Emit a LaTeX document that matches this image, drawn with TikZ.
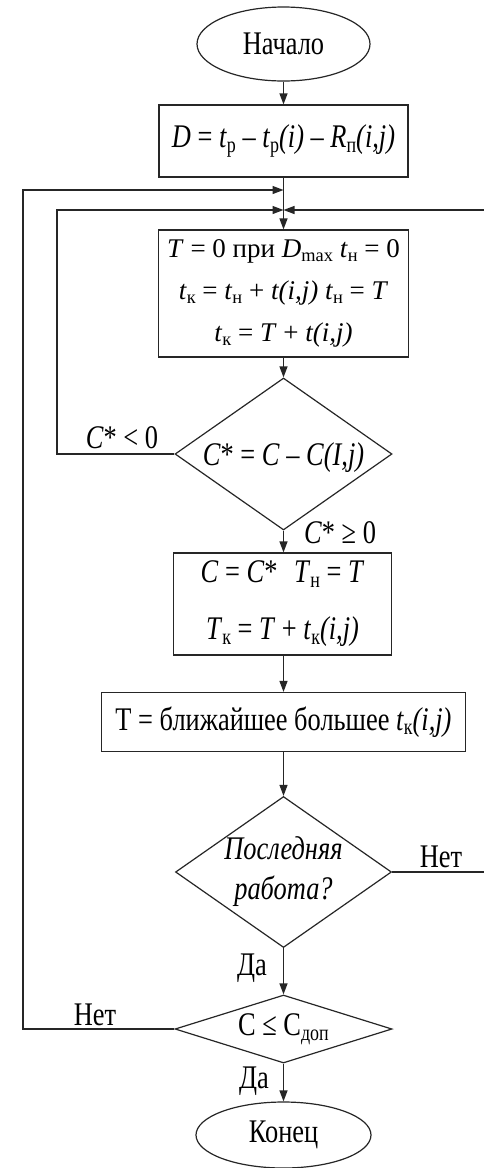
\documentclass[tikz,border=0pt]{standalone}
\usepackage{fontspec}
\setmainfont[FakeStretch=0.8]{Liberation Serif}
\newfontfamily\plainserif{Liberation Serif}
\usetikzlibrary{shapes.geometric,arrows.meta}
\newcommand\lo[1]{\raisebox{-0.3ex}{\scalebox{0.68}{#1}}}
\newcommand\vi[1]{\textit{#1}}
\begin{document}
\begin{tikzpicture}[x=1pt,y=-1pt,
 line/.style={draw=black!85,line width=1.2pt},
 arr/.style={line,-{Triangle[length=11pt,width=8pt]}},
 txt/.style={font=\fontsize{33}{40}\selectfont},
 term/.style={ellipse,line,inner sep=0pt,txt},
 box/.style={rectangle,line,inner sep=0pt,txt,align=center},
 dec/.style={diamond,line,inner sep=0pt},
 lab/.style={txt,anchor=base,inner sep=0pt}]
\fill[white] (0,0) rectangle (483,1168);
\useasboundingbox (0,0) rectangle (483,1168);

\node[term,minimum width=173pt,minimum height=74pt] (start) at (283.5,44) {Начало};
\node[box,minimum width=249pt,minimum height=72pt] (D) at (283.5,141)
 {\vi{D} = \vi{t}\lo{р} – \vi{t}\lo{р}\vi{(i)} – \vi{R}\lo{п}\vi{(i,j)}};
\node[box,minimum width=250pt,minimum height=127pt,font=\plainserif\fontsize{27}{42}\selectfont] (T) at (283.5,293.5)
 {\vi{T} = 0 при \vi{D}\lo{max} \vi{t}\lo{н} = 0\\
  \vi{t}\lo{к} = \vi{t}\lo{н} + \vi{t(i,j)} \vi{t}\lo{н} = \vi{T}\\
  \vi{t}\lo{к} = \vi{T} + \vi{t(i,j)}};
\node[dec,minimum width=217pt,minimum height=152pt,
 label={[txt,yshift=-4pt]center:\vi{C}* = \vi{C} – \vi{C(I,j)}}] (d1) at (283.5,454) {};
\node[box,minimum width=218pt,minimum height=102pt] (C) at (282.5,604)
 {\vi{C} = \vi{C}*\enspace \vi{T}\lo{н} = \vi{T}\\[17pt]
  \vi{T}\lo{к} = \vi{T} + \vi{t}\lo{к}\vi{(i,j)}};
\node[box,minimum width=364pt,minimum height=59pt] (T2) at (283.5,722)
 {T = ближайшее большее \vi{t}\lo{к}\vi{(i,j)}};
\node[dec,minimum width=216pt,minimum height=151pt,
 label={[txt,align=center]center:\vi{Последняя}\\\vi{работа?}}] (d2) at (283.5,872) {};
\node[dec,minimum width=217pt,minimum height=68pt,
 label={[txt]center:C ≤ C\lo{доп}}] (d3) at (283.5,1029) {};
\node[term,minimum width=175pt,minimum height=66pt] (end) at (283.5,1135) {Конец};

\coordinate (m1) at (283.5,190);
\coordinate (m2) at (283.5,210);

\draw[arr] (start) -- (D);
\draw[arr] (D) -- (T);
\draw[arr] (T) -- (d1);
\draw[arr] (d1) -- (C.north -| d1.south);
\draw[arr] (C.south -| T2.north) -- (T2);
\draw[arr] (T2) -- (d2);
\draw[arr] (d2) -- (d3);
\draw[arr] (d3) -- (end);
\draw[arr] (d1.west) -| (57,210) -- (m2);
\draw[arr] (d2.east) -- (490,872) |- (m2);
\draw[arr] (d3.west) -| (23,190) -- (m1);

\node[lab] (l1) at (122,448) {\vi{C}* < 0};
\node[lab] (l2) at (340,543) {\vi{C}* ≥ 0};
\node[lab] (l3) at (441,867) {Нет};
\node[lab] (l4) at (252,975) {Да};
\node[lab] (l5) at (95,1025) {Нет};
\node[lab] (l6) at (254,1088) {Да};
\end{tikzpicture}
\end{document}
